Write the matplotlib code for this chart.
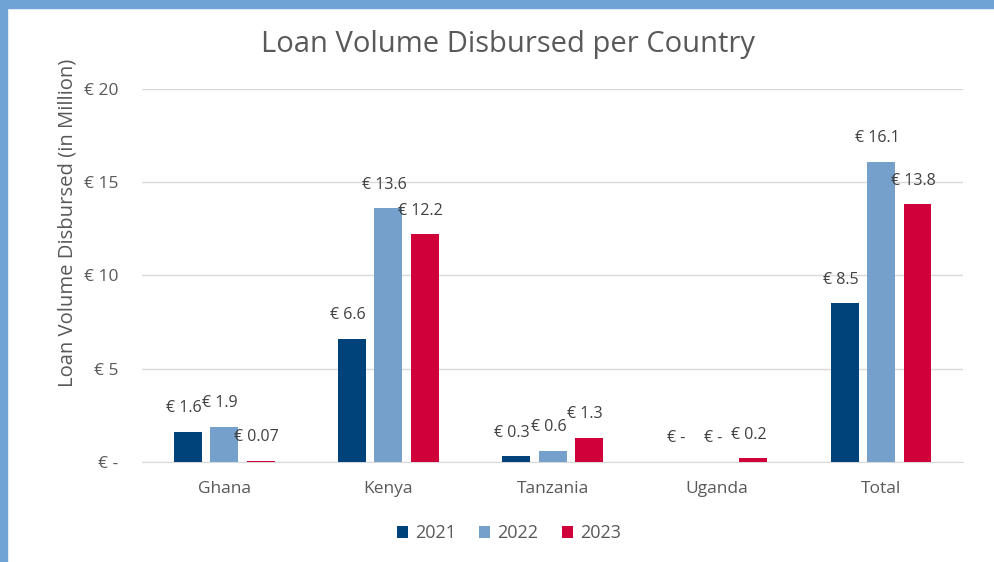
import numpy as np
import matplotlib as mpl
mpl.use('Agg')
import matplotlib.pyplot as plt
from matplotlib.patches import Rectangle

plt.rcParams['font.family'] = ['Open Sans', 'DejaVu Sans']

countries = ['Ghana', 'Kenya', 'Tanzania', 'Uganda', 'Total']
years = ['2021', '2022', '2023']
vol_2021 = [1.6, 6.6, 0.3, 0.0, 8.5]
vol_2022 = [1.9, 13.6, 0.6, 0.0, 16.1]
vol_2023 = [0.07, 12.2, 1.3, 0.2, 13.8]
yticks = [0, 5, 10, 15, 20]
ytick_labels = ['€ -', '€ 5', '€ 10', '€ 15', '€ 20']

colors = ['#00427A', '#74A0CB', '#D0003A']
text_col = '#595959'

def fmt(v):
    if v == 0:
        return '€ -'
    if v < 0.1:
        return '€ {:.2f}'.format(v)
    return '€ {:.1f}'.format(v)

fig = plt.figure(figsize=(9.94, 5.62), dpi=100)
ax = fig.add_axes([0.143, 0.178, 0.826, 0.664])

x = np.arange(len(countries))
width = 0.17
step = 0.222
for i, (vals, yr) in enumerate(zip([vol_2021, vol_2022, vol_2023], years)):
    pos = x + (i - 1) * step
    ax.bar(pos, vals, width, color=colors[i], label=yr, zorder=3)
    for p, v in zip(pos, vals):
        ax.annotate(fmt(v), (p, v), xytext=(-3, 17), textcoords='offset points',
                    ha='center', va='center', fontsize=11.5, color='#404040')

ax.set_ylim(0, 20)
ax.set_xlim(-0.5, len(countries) - 0.5)
ax.set_yticks(yticks)
ax.set_yticklabels(ytick_labels)
ax.set_xticks(x)
ax.set_xticklabels(countries)
ax.tick_params(axis='y', length=0, pad=17, labelsize=12.5, labelcolor=text_col)
ax.tick_params(axis='x', length=0, pad=14, labelsize=12.5, labelcolor=text_col)
ax.grid(axis='y', color='#D9D9D9', linewidth=1, zorder=0)
for s in ['top', 'right', 'left']:
    ax.spines[s].set_visible(False)
ax.spines['bottom'].set_color('#D9D9D9')
ax.set_ylabel('Loan Volume Disbursed (in Million)', fontsize=14.6, color=text_col)
ax.yaxis.set_label_coords(-0.079, 0.64)

fig.suptitle('Loan Volume Disbursed per Country', fontsize=21, color=text_col,
             x=0.511, y=0.92, va='center')

fig.legend(loc='center', bbox_to_anchor=(0.512, 0.051), ncol=3, frameon=False,
           fontsize=13, handlelength=0.6, handleheight=0.6, handletextpad=0.4,
           columnspacing=1.3, labelcolor=text_col)

# light blue frame on top and left
fig.patches.append(Rectangle((0, 1 - 8 / 562), 1, 8 / 562, transform=fig.transFigure,
                             color='#6FA3D6', zorder=10))
fig.patches.append(Rectangle((0, 0), 7 / 994, 1, transform=fig.transFigure,
                             color='#6FA3D6', zorder=10))

fig.savefig('out.png', dpi=100)
